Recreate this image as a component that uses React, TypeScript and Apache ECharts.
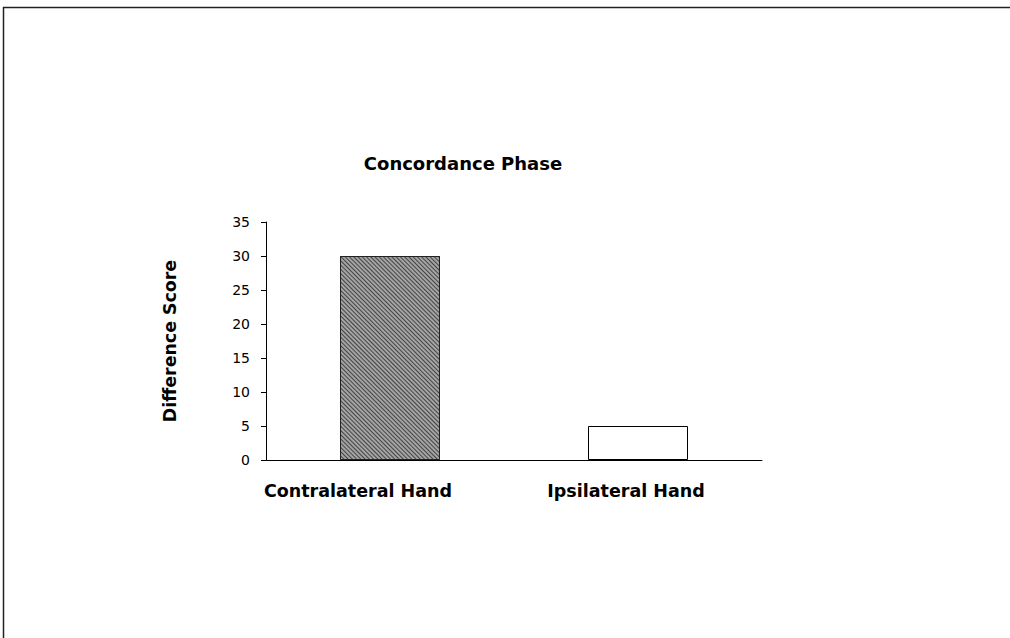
import React, { useEffect, useRef } from "react";
import * as echarts from "echarts";

const categories = ["Contralateral Hand", "Ipsilateral Hand"];
const values = [30, 5];
const yTicks = { min: 0, max: 35, interval: 5 };
const title = "Concordance Phase";
const yName = "Difference Score";
// horizontal label shifts (right padding) to mimic original placement
const labelPadRight = [64, 24];

export default function App() {
  const ref = useRef<HTMLDivElement>(null);
  useEffect(() => {
    if (!ref.current) return;
    const chart = echarts.init(ref.current, null, { renderer: "svg" });
    const font = "'DejaVu Sans', Verdana, sans-serif";
    chart.setOption({
      animation: false,
      backgroundColor: "#fff",
      title: {
        text: title,
        left: 458,
        top: 149,
        textAlign: "center",
        textStyle: { fontFamily: font, fontWeight: "bold", fontSize: 18, color: "#000" },
      },
      grid: { left: 266, right: 248, top: 222, bottom: 178 },
      xAxis: {
        type: "category",
        data: categories.map((c, i) => ({
          value: c,
          textStyle: { padding: [0, labelPadRight[i], 0, 0] },
        })),
        axisLine: { lineStyle: { color: "#000", width: 1 } },
        axisTick: { show: false },
        axisLabel: { margin: 22, fontFamily: font, fontWeight: "bold", fontSize: 17.5, color: "#000" },
      },
      yAxis: {
        type: "value",
        min: yTicks.min,
        max: yTicks.max,
        interval: yTicks.interval,
        name: yName,
        nameLocation: "middle",
        nameGap: 88,
        nameRotate: 90,
        nameTextStyle: { fontFamily: font, fontWeight: "bold", fontSize: 17.4, color: "#000" },
        splitLine: { show: false },
        axisLine: { show: true, lineStyle: { color: "#000", width: 1 } },
        axisTick: { show: true, length: 5, lineStyle: { color: "#000" } },
        axisLabel: { margin: 16, fontFamily: font, fontSize: 14, color: "#000" },
      },
      series: [
        {
          type: "bar",
          barWidth: 100,
          data: values.map((v, i) =>
            i === 0
              ? {
                  value: v,
                  itemStyle: {
                    color: "#a4a4a4",
                    borderColor: "#222",
                    borderWidth: 1,
                    decal: {
                      symbol: "rect",
                      symbolSize: 1,
                      dashArrayX: [1, 0],
                      dashArrayY: [1, 2],
                      rotation: Math.PI / 4,
                      color: "#444",
                    },
                  },
                }
              : {
                  value: v,
                  itemStyle: { color: "#fff", borderColor: "#000", borderWidth: 1 },
                }
          ),
        },
      ],
      graphic: [
        { type: "line", shape: { x1: 3, y1: 7.5, x2: 1010, y2: 7.5 }, style: { stroke: "#222", lineWidth: 1.5 } },
        { type: "line", shape: { x1: 3.5, y1: 7, x2: 3.5, y2: 638 }, style: { stroke: "#222", lineWidth: 1.5 } },
      ],
    });
    return () => chart.dispose();
  }, []);
  return <div ref={ref} style={{ position: "fixed", left: 0, top: 0, width: 1010, height: 638 }} />;
}
